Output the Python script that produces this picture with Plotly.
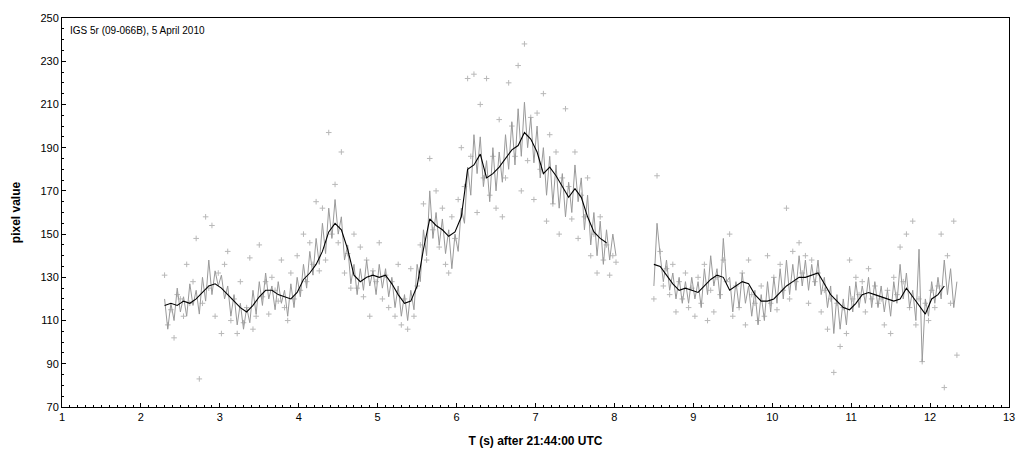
import numpy as np
import plotly.graph_objects as go

FPS = 25.0
SEG1_T0 = 2.30
SEG2_T0 = 8.50
SMOOTH_STEP = 0.08

# gray line (segment 1, 25 fps from 2.30 s)
gray1 = [
    120, 106, 118, 110, 125, 114, 121, 112, 127, 117,
    124, 113, 130, 119, 138, 122, 133, 126, 131, 120,
    126, 112, 122, 108, 118, 106, 116, 109, 124, 113,
    128, 117, 132, 120, 126, 115, 128, 118, 124, 112,
    127, 116, 130, 121, 136, 125, 142, 131, 148, 136,
    155, 141, 162, 148, 166, 150, 158, 138, 145, 127,
    136, 122, 134, 124, 138, 126, 133, 122, 136, 125,
    134, 121, 130, 116, 126, 112, 122, 110, 124, 115,
    136, 128, 152, 140, 170, 148, 160, 145, 157, 141,
    152, 134, 150, 142, 162, 155, 181, 168, 196, 178,
    195, 172, 184, 165, 190, 170, 188, 174, 196, 180,
    202, 182, 208, 186, 211, 190, 204, 183, 200, 176,
    190, 168, 186, 164, 182, 162, 178, 158, 174, 160,
    182, 165, 176, 152, 168, 145, 160, 140, 156, 136,
    152, 138, 150, 140,
]
# gray line (segment 2, 25 fps from 8.50 s)
gray2 = [
    126, 155, 140, 128, 138, 124, 132, 120, 130, 118,
    128, 118, 130, 120, 128, 116, 134, 122, 140, 126,
    134, 120, 148, 128, 130, 114, 128, 116, 132, 118,
    126, 112, 124, 108, 122, 110, 128, 114, 130, 118,
    134, 120, 138, 122, 136, 124, 140, 126, 138, 124,
    136, 126, 138, 122, 130, 116, 126, 104, 122, 106,
    120, 108, 126, 114, 128, 116, 126, 118, 130, 116,
    128, 116, 126, 114, 124, 112, 128, 118, 136, 120,
    132, 116, 124, 110, 143, 91, 120, 112, 128, 118,
    130, 120, 138, 122, 134, 116, 128,
]

# raw samples ('+' markers)
dots1 = [
    131, 108, 115, 102, 122, 120, 112, 136, 118, 128,
    148, 83, 118, 158, 125, 154, 112, 132, 104, 136,
    142, 110, 120, 104, 128, 109, 116, 139, 106, 112,
    145, 121, 128, 113, 130, 124, 119, 138, 116, 110,
    132, 120, 140, 124, 150, 128, 146, 136, 165, 133,
    162, 138, 197, 150, 173, 146, 188, 132, 141, 125,
    150, 125, 144, 121, 138, 112, 133, 128, 146, 120,
    131, 116, 128, 112, 136, 108, 120, 106, 134, 112,
    126, 145, 164, 138, 185, 152, 170, 144, 162, 136,
    132, 158, 148, 166, 190, 172, 222, 186, 224, 160,
    210, 176, 222, 168, 186, 162, 203, 158, 176, 220,
    200, 186, 228, 170, 238, 184, 204, 166, 206, 180,
    215, 156, 196, 164, 188, 150, 176, 208, 172, 157,
    188, 148, 168, 158, 176, 140, 150, 132, 158, 138,
    145, 131, 140, 137,
]
dots2 = [
    120, 177, 142, 126, 134, 122, 136, 114, 128, 120,
    132, 116, 125, 112, 130, 118, 136, 110, 124, 114,
    130, 122, 138, 128, 150, 112, 126, 116, 132, 108,
    138, 122, 118, 110, 126, 112, 140, 118, 130, 115,
    136, 124, 162, 120, 142, 128, 146, 132, 140, 118,
    138, 128, 132, 114, 124, 106, 120, 86, 118, 98,
    116, 104, 138, 120, 130, 122, 128, 114, 134, 120,
    126, 118, 120, 108, 124, 104, 130, 122, 144, 128,
    150, 116, 156, 108, 120, 91, 118, 110, 124, 116,
    126, 150, 79, 140, 118, 156, 94,
]

# black running-mean line, sampled every 0.08 s
black1 = [
    117, 118, 117, 119, 118, 120, 123, 126, 127, 125,
    122, 119, 116, 114, 117, 121, 124, 124, 122, 121,
    120, 123, 129, 132, 136, 142, 151, 155, 152, 143,
    131, 128, 130, 131, 130, 131, 127, 122, 118, 119,
    126, 143, 157, 154, 152, 149, 151, 158, 180, 182,
    187, 176, 178, 181, 185, 189, 191, 197, 194, 188,
    178, 181, 177, 172, 167, 171, 167, 158, 151, 148,
    146,
]
black2 = [
    136, 135, 131, 127, 124, 125, 124, 123, 126, 129,
    131, 130, 124, 126, 128, 127, 122, 119, 119, 120,
    123, 126, 128, 130, 130, 131, 132, 127, 122, 119,
    116, 115, 118, 122, 123, 122, 121, 120, 119, 120,
    125, 121, 117, 113, 120, 122, 126,
]

TITLE = "IGS 5r (09-066B), 5 April 2010"
X_TITLE = "T (s) after 21:44:00 UTC"
Y_TITLE = "pixel value"
X_TICKS = list(range(1, 14))
Y_TICKS = list(range(70, 251, 20))

t_g1 = SEG1_T0 + np.arange(len(gray1)) / FPS
t_g2 = SEG2_T0 + np.arange(len(gray2)) / FPS
t_d1 = SEG1_T0 + np.arange(len(dots1)) / FPS
t_d2 = SEG2_T0 + np.arange(len(dots2)) / FPS
t_b1 = SEG1_T0 + np.arange(len(black1)) * SMOOTH_STEP
t_b2 = SEG2_T0 + np.arange(len(black2)) * SMOOTH_STEP

FONT = "Liberation Sans, Arial"

fig = go.Figure()
dot_style = dict(symbol="cross-thin", size=4, line=dict(color="#b8b8b8", width=1), color="#b8b8b8")
for tx, v in ((t_d1, dots1), (t_d2, dots2)):
    fig.add_trace(go.Scatter(x=tx, y=v, mode="markers", marker=dot_style, showlegend=False, hoverinfo="skip"))
for tx, v in ((t_g1, gray1), (t_g2, gray2)):
    fig.add_trace(go.Scatter(x=tx, y=v, mode="lines", line=dict(color="#9a9a9a", width=1), showlegend=False))
for tx, v in ((t_b1, black1), (t_b2, black2)):
    fig.add_trace(go.Scatter(x=tx, y=v, mode="lines", line=dict(color="#000000", width=1.1), showlegend=False))

fig.add_annotation(text=TITLE, xref="paper", yref="paper", x=0.006, y=0.988,
                   xanchor="left", yanchor="top", showarrow=False,
                   font=dict(family=FONT, size=10, color="black"))

axis_common = dict(showline=True, linecolor="black", linewidth=1, mirror=True,
                   showgrid=False, zeroline=False, ticks="inside", tickcolor="black",
                   ticklen=4, automargin=False,
                   tickfont=dict(family=FONT, size=11, color="black"))
fig.update_xaxes(range=[1, 13], tickvals=X_TICKS, ticktext=[str(v) for v in X_TICKS],
                 minor=dict(dtick=0.1, ticks="inside", ticklen=2, tickcolor="black"),
                 title=dict(text="<b>" + X_TITLE + "</b>", standoff=14,
                            font=dict(family=FONT, size=12, color="black")),
                 **axis_common)
fig.update_yaxes(range=[70, 250], tickvals=Y_TICKS, ticktext=[str(v) for v in Y_TICKS],
                 minor=dict(dtick=5, ticks="inside", ticklen=2, tickcolor="black"),
                 title=dict(text="<b>" + Y_TITLE + "</b>", standoff=17,
                            font=dict(family=FONT, size=12, color="black")),
                 **axis_common)
fig.update_layout(width=1030, height=465, paper_bgcolor="white", plot_bgcolor="white",
                  margin=dict(l=54, r=29, t=10, b=66, autoexpand=False), showlegend=False)
fig.write_html("out.html")
